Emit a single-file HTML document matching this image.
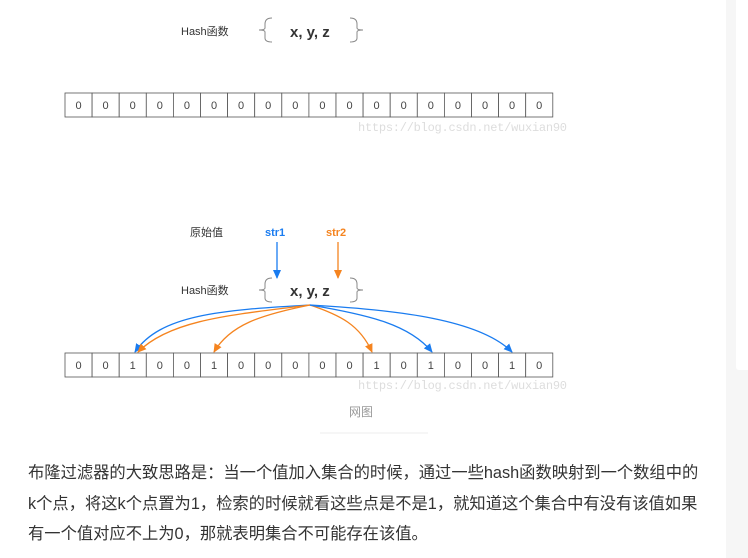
<!DOCTYPE html>
<html><head><meta charset="utf-8"><style>
html,body{margin:0;padding:0;background:#fff;}
body{width:748px;height:558px;position:relative;overflow:hidden;font-family:"Liberation Sans","Noto Sans CJK SC",sans-serif;}
.side{position:absolute;left:726px;top:0;width:22px;height:558px;background:#f6f6f6;}
.card{position:absolute;left:736px;top:0;width:12px;height:370px;background:#fff;border-radius:0 0 0 3px;}
p{position:absolute;left:28px;top:458px;margin:0;white-space:nowrap;font-size:16.3px;line-height:30.5px;color:#333;}
</style></head><body>
<div class="side"></div><div class="card"></div>
<svg width="748" height="558" style="position:absolute;left:0;top:0" xmlns="http://www.w3.org/2000/svg">
<defs>
<marker id="ab" markerWidth="10" markerHeight="10" refX="8" refY="5" orient="auto" markerUnits="userSpaceOnUse"><path d="M0,1 L9,5 L0,9 Z" fill="#1a7cf0"/></marker>
<marker id="ao" markerWidth="10" markerHeight="10" refX="8" refY="5" orient="auto" markerUnits="userSpaceOnUse"><path d="M0,1 L9,5 L0,9 Z" fill="#f5841f"/></marker>
</defs>
<g font-family="Liberation Sans,Noto Sans CJK SC,sans-serif" fill="#333">
<text x="181" y="35" font-size="11">Hash函数</text>
<text x="290" y="37" font-size="15" font-weight="bold">x, y, z</text>
<text x="190" y="236" font-size="11">原始值</text>
<text x="265" y="236" font-size="11" font-weight="bold" fill="#1a7cf0">str1</text>
<text x="326" y="236" font-size="11" font-weight="bold" fill="#f5841f">str2</text>
<text x="181" y="294" font-size="11">Hash函数</text>
<text x="290" y="296" font-size="15" font-weight="bold">x, y, z</text>
<text x="349" y="416" font-size="12" fill="#999">网图</text>
</g>
<g fill="none" stroke="#888" stroke-width="1">
<path d="M272,18 Q265,18 265,24 L265,28 Q265,30 259,30 Q265,30 265,32 L265,38 Q265,42 272,42"/>
<path d="M350,18 Q357,18 357,24 L357,28 Q357,30 363,30 Q357,30 357,32 L357,38 Q357,42 350,42"/>
<path d="M272,278 Q265,278 265,284 L265,288 Q265,290 259,290 Q265,290 265,292 L265,298 Q265,302 272,302"/>
<path d="M350,278 Q357,278 357,284 L357,288 Q357,290 363,290 Q357,290 357,292 L357,298 Q357,302 350,302"/>
</g>
<line x1="320" y1="433" x2="428" y2="433" stroke="#eee"/>
<g font-family="Liberation Mono,monospace" font-size="12" fill="#ddd">
<text x="358" y="131" textLength="209">https://blog.csdn.net/wuxian90</text>
<text x="358" y="389" textLength="209">https://blog.csdn.net/wuxian90</text>
</g>
<line x1="277" y1="242" x2="277" y2="278" stroke="#1a7cf0" stroke-width="1.3" marker-end="url(#ab)"/>
<line x1="338" y1="242" x2="338" y2="278" stroke="#f5841f" stroke-width="1.3" marker-end="url(#ao)"/>
<g fill="none" stroke-width="1.3">
<path d="M310,305 C220,310 160,315 135,352" stroke="#1a7cf0" marker-end="url(#ab)"/>
<path d="M310,305 C230,315 170,320 138,352" stroke="#f5841f" marker-end="url(#ao)"/>
<path d="M310,305 C260,315 230,325 214,352" stroke="#f5841f" marker-end="url(#ao)"/>
<path d="M310,305 C340,315 360,325 372,352" stroke="#f5841f" marker-end="url(#ao)"/>
<path d="M310,305 C370,315 410,325 432,352" stroke="#1a7cf0" marker-end="url(#ab)"/>
<path d="M310,305 C400,310 480,320 512,352" stroke="#1a7cf0" marker-end="url(#ab)"/>
</g>
<g id="cells"></g>
</svg>
<script>
var g=document.getElementById('cells'),ns='http://www.w3.org/2000/svg';
var v2=[0,0,1,0,0,1,0,0,0,0,0,1,0,1,0,0,1,0];
function row(y,vals){for(var i=0;i<18;i++){var x=65+i*27.1;var r=document.createElementNS(ns,'rect');r.setAttribute('x',x);r.setAttribute('y',y);r.setAttribute('width',27.1);r.setAttribute('height',24);r.setAttribute('fill','#fff');r.setAttribute('stroke','#555');r.setAttribute('stroke-width','0.8');g.appendChild(r);var t=document.createElementNS(ns,'text');t.setAttribute('x',x+13.5);t.setAttribute('y',y+16);t.setAttribute('text-anchor','middle');t.setAttribute('font-size','11');t.setAttribute('fill','#444');t.setAttribute('font-family','Liberation Sans,sans-serif');t.textContent=vals?vals[i]:0;g.appendChild(t);}}
row(93,null);row(353,v2);
</script>
<p>布隆过滤器的大致思路是：当一个值加入集合的时候，通过一些hash函数映射到一个数组中的<br>k个点，将这k个点置为1，检索的时候就看这些点是不是1，就知道这个集合中有没有该值如果<br>有一个值对应不上为0，那就表明集合不可能存在该值。</p>
</body></html>
